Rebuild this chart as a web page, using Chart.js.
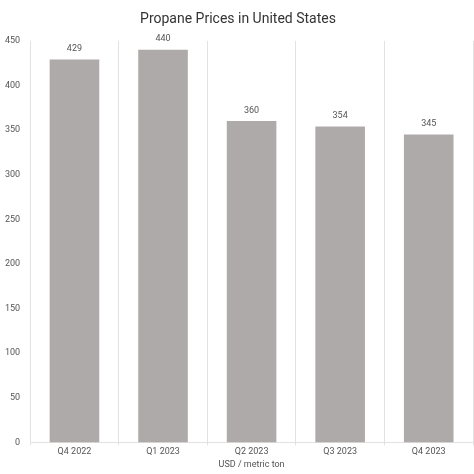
<!DOCTYPE html>
<html>
<head>
<meta charset="utf-8">
<script src="https://cdn.jsdelivr.net/npm/chart.js@4"></script>
<style>
  html, body { margin: 0; padding: 0; background: #fff; }
  #wrap { width: 474px; height: 474px; }
</style>
</head>
<body>
<div id="wrap"><canvas id="chart"></canvas></div>
<script>
const quarters = ['Q4 2022', 'Q1 2023', 'Q2 2023', 'Q3 2023', 'Q4 2023'];
const prices = [429, 440, 360, 354, 345];
const yTicks = [0, 50, 100, 150, 200, 250, 300, 350, 400, 450];

// simple value labels above bars
const valueLabels = {
    id: 'valueLabels',
    afterDatasetsDraw(chart) {
        const ctx = chart.ctx;
        const meta = chart.getDatasetMeta(0);
        ctx.save();
        ctx.font = '9px Roboto';
        ctx.fillStyle = '#555';
        ctx.textAlign = 'center';
        ctx.textBaseline = 'bottom';
        meta.data.forEach((bar, i) => {
            ctx.fillText(prices[i], bar.x, bar.y - 6);
        });
        ctx.restore();
    }
};

new Chart(document.getElementById('chart'), {
    type: 'bar',
    data: {
        labels: quarters,
        datasets: [{
            data: prices,
            backgroundColor: '#aeaaa9',
            barPercentage: 0.56,
            categoryPercentage: 1,
        }],
    },
    options: {
        responsive: true,
        maintainAspectRatio: false,
        animation: false,
        layout: { padding: { left: 3, right: 1, top: 0, bottom: 4 } },
        plugins: {
            legend: { display: false },
            tooltip: { enabled: false },
            title: {
                display: true,
                text: 'Propane Prices in United States',
                color: '#333',
                font: { family: 'Roboto', size: 14, weight: 'normal' },
                padding: { top: 11, bottom: 13 },
            },
        },
        scales: {
            x: {
                grid: { color: '#e2e2e2', tickLength: 3 },
                border: { color: '#e2e2e2' },
                ticks: { color: '#555', font: { family: 'Roboto', size: 9 }, padding: 1 },
                title: {
                    display: true,
                    text: 'USD / metric ton',
                    color: '#555',
                    font: { family: 'Roboto', size: 9 },
                    padding: { top: 1, bottom: 0 },
                },
            },
            y: {
                min: 0,
                max: 450,
                afterBuildTicks(axis) {
                    axis.ticks = yTicks.map(v => ({ value: v }));
                },
                grid: { display: false },
                border: { display: false },
                ticks: { color: '#555', font: { family: 'Roboto', size: 9 }, padding: 2 },
            },
        },
    },
    plugins: [valueLabels],
});
</script>
</body>
</html>
